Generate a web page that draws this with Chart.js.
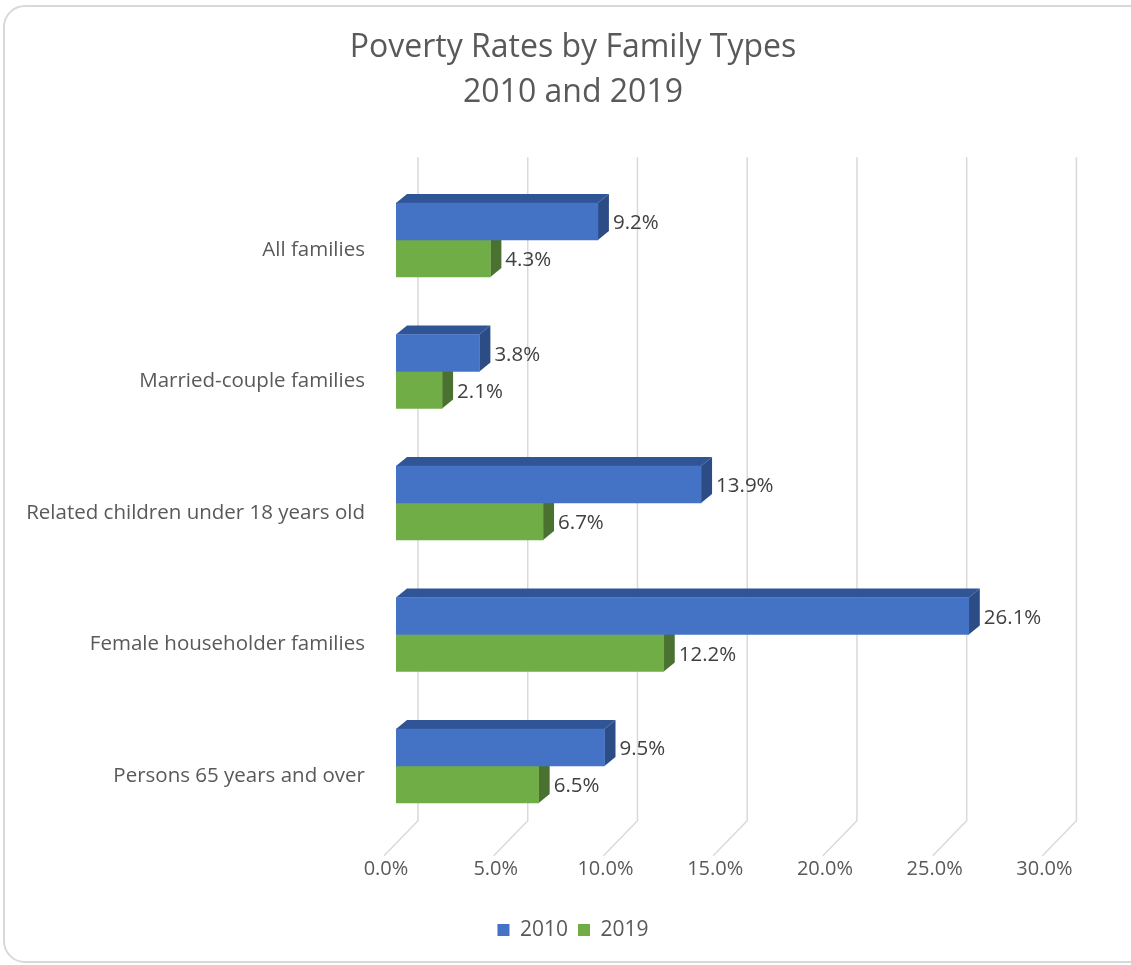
<!DOCTYPE html>
<html>
<head>
<meta charset="utf-8">
<script src="https://cdn.jsdelivr.net/npm/chart.js@4.4.1/dist/chart.umd.min.js"></script>
<style>
  body { margin: 0; width: 1131px; height: 965px; overflow: hidden; background: #fff; position: relative; }
  #frame { position: absolute; left: 3px; top: 5px; width: 1148px; height: 958px; border: 2px solid #d9d9d9; border-radius: 22px; box-sizing: border-box; }
  #c { position: absolute; left: 0; top: 0; }
</style>
</head>
<body>
<div id="frame"></div>
<canvas id="c" width="1131" height="965"></canvas>
<script>
// data
const categories = ['All families', 'Married-couple families', 'Related children under 18 years old', 'Female householder families', 'Persons 65 years and over'];
const rates2010 = [9.2, 3.8, 13.9, 26.1, 9.5];
const rates2019 = [4.3, 2.1, 6.7, 12.2, 6.5];
const xTicks = [0, 5, 10, 15, 20, 25, 30];

const FONT = "'Open Sans', 'Noto Sans', sans-serif";
const DX = 11, DY = -9; // bar depth

// faces of the 3D bars: [front, top, side]
const shades = [
    ['#4472c4', '#2f5597', '#2b4c84'],
    ['#70ad47', '#5a8c39', '#4a7130']
];

const threeD = {
    id: 'threeD',
    beforeDatasetsDraw(chart) {
        const ctx = chart.ctx;
        const xs = chart.scales.x;
        const top = chart.chartArea.top - 17;
        const bottom = chart.chartArea.bottom - 11;
        // back wall + floor lines
        ctx.save();
        ctx.strokeStyle = '#d9d9d9';
        ctx.lineWidth = 1.5;
        xTicks.forEach(v => {
            const px = xs.getPixelForValue(v);
            ctx.beginPath();
            ctx.moveTo(px + 22, top);
            ctx.lineTo(px + 22, bottom);
            ctx.lineTo(px - 12, bottom + 35);
            ctx.stroke();
        });
        // top and side faces, green first so the blue body covers it
        [1, 0].forEach(di => {
            const meta = chart.getDatasetMeta(di);
            meta.data.forEach(bar => {
                const p = bar.getProps(['x', 'y', 'base', 'height'], true);
                const x0 = p.base, x1 = p.x;
                const y0 = p.y - p.height / 2, y1 = p.y + p.height / 2;
                ctx.fillStyle = shades[di][1];
                ctx.beginPath();
                ctx.moveTo(x0, y0);
                ctx.lineTo(x0 + DX, y0 + DY);
                ctx.lineTo(x1 + DX, y0 + DY);
                ctx.lineTo(x1, y0);
                ctx.closePath();
                ctx.fill();
                ctx.fillStyle = shades[di][2];
                ctx.beginPath();
                ctx.moveTo(x1, y0);
                ctx.lineTo(x1 + DX, y0 + DY);
                ctx.lineTo(x1 + DX, y1 + DY);
                ctx.lineTo(x1, y1);
                ctx.closePath();
                ctx.fill();
            });
        });
        ctx.restore();
    },
    afterDatasetsDraw(chart) {
        const ctx = chart.ctx;
        ctx.save();
        ctx.font = '20.5px ' + FONT;
        ctx.fillStyle = '#404040';
        ctx.textBaseline = 'middle';
        chart.data.datasets.forEach((ds, di) => {
            chart.getDatasetMeta(di).data.forEach((bar, i) => {
                ctx.fillText(ds.data[i].toFixed(1) + '%', bar.x + DX + 4, bar.y + 2);
            });
        });
        ctx.restore();
    }
};

new Chart(document.getElementById('c'), {
    type: 'bar',
    data: {
        labels: categories,
        datasets: [
            { label: '2010', data: rates2010, backgroundColor: shades[0][0], borderWidth: 0, barThickness: 37 },
            { label: '2019', data: rates2019, backgroundColor: shades[1][0], borderWidth: 0, barThickness: 37 }
        ]
    },
    options: {
        indexAxis: 'y',
        responsive: false,
        animation: false,
        layout: { padding: { left: 15, right: 0, top: 0, bottom: 14.5 } },
        plugins: {
            title: {
                display: true,
                text: ['Poverty Rates by Family Types', '2010 and 2019'],
                color: '#595959',
                font: { family: FONT, size: 32, weight: 'normal', lineHeight: 1.406 },
                padding: { top: 25.5, bottom: 58.75 }
            },
            legend: {
                position: 'bottom',
                labels: { color: '#595959', font: { family: FONT, size: 21 }, boxWidth: 12, boxHeight: 12, padding: 10 }
            },
            tooltip: { enabled: false }
        },
        scales: {
            x: {
                min: 0, max: 33.49,
                grid: { display: false },
                border: { display: false },
                afterFit(s) { s.height = 77.75; },
                afterBuildTicks(s) { s.ticks = xTicks.map(v => ({ value: v })); },
                ticks: {
                    color: '#595959',
                    font: { family: FONT, size: 20 },
                    padding: 18,
                    labelOffset: -10,
                    callback: v => v.toFixed(1) + '%'
                }
            },
            y: {
                grid: { display: false },
                border: { display: false },
                afterFit(s) { s.width = 381; },
                ticks: {
                    color: '#595959',
                    font: { family: FONT, size: 20.5 },
                    padding: 23,
                    labelOffset: 10
                }
            }
        }
    },
    plugins: [threeD]
});
</script>
</body>
</html>
